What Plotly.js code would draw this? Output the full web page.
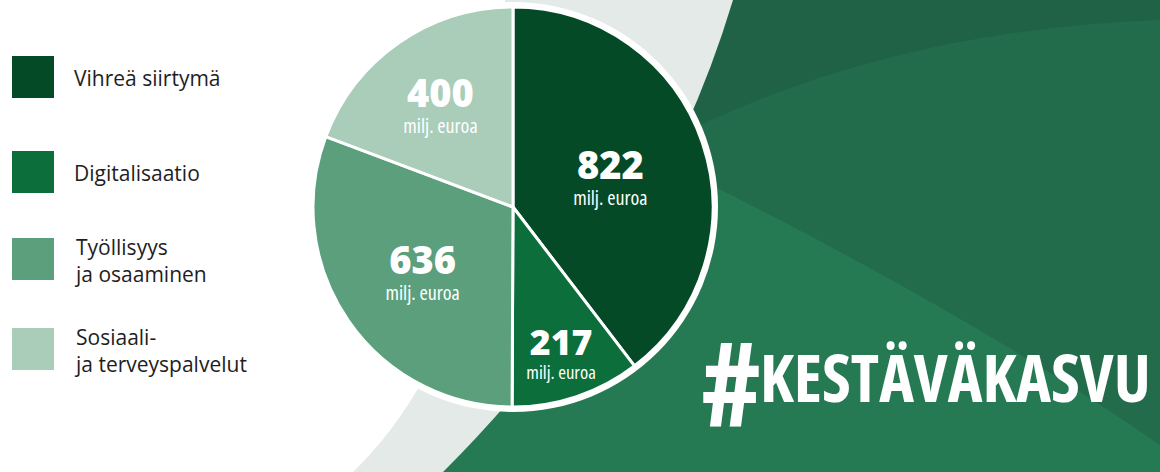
<!DOCTYPE html>
<html>
<head>
<meta charset="utf-8">
<script src="https://cdn.plot.ly/plotly-3.0.1.min.js"></script>
<style>
  html, body { margin: 0; padding: 0; background: #ffffff; }
  #chart { width: 1160px; height: 472px; }
</style>
</head>
<body>
<div id="chart"></div>
<script>
// ---- data ----
const categories = ['Vihreä siirtymä', 'Digitalisaatio', 'Työllisyys ja osaaminen', 'Sosiaali- ja terveyspalvelut'];
const legendLabels = ['Vihreä siirtymä', 'Digitalisaatio', 'Työllisyys<br>ja osaaminen', 'Sosiaali-<br>ja terveyspalvelut'];
const values = [822, 217, 636, 400];
const unitLabel = 'milj. euroa';
const hashtagLabel = 'KESTÄVÄKASVU';
const sliceColors = ['#054a27', '#0b6e3b', '#5b9f7d', '#a9cdb9'];

// ---- layout helpers (pixel -> paper) ----
const W = 1160, H = 472;
const px = x => x / W;
const py = y => 1 - y / H;
const toPaper = s => s.replace(/(-?\d+(?:\.\d+)?),(-?\d+(?:\.\d+)?)/g, (m, a, b) => px(+a) + ',' + py(+b));

const pieCx = 513, pieCy = 207, pieR = 200;
const narrow = 'Open Sans, DejaVu Sans Condensed, sans-serif';

const shapes = [
  // darker top band of the green background
  { type: 'path', xref: 'paper', yref: 'paper', layer: 'below', line: { width: 0 }, fillcolor: '#1f6245',
    path: toPaper('M 660,145 Q 880,30 1160,20 L 1160,0 L 300,0 L 300,145 Z') },
  // lighter lower-left band
  { type: 'path', xref: 'paper', yref: 'paper', layer: 'below', line: { width: 0 }, fillcolor: '#267a53',
    path: toPaper('M 640,150 Q 950,300 1160,445 L 1160,472 L 300,472 L 300,150 Z') },
  // light grey swoosh
  { type: 'path', xref: 'paper', yref: 'paper', layer: 'below', line: { width: 0 }, fillcolor: '#e3eae7',
    path: toPaper('M 0,0 L 733,0 Q 655,260 443,472 L 0,472 Z') },
  // white left area
  { type: 'path', xref: 'paper', yref: 'paper', layer: 'below', line: { width: 0 }, fillcolor: '#ffffff',
    path: toPaper('M 0,0 L 505,0 Q 500,330 353,472 L 0,472 Z') },
  // white ring behind the pie
  { type: 'circle', xref: 'paper', yref: 'paper', layer: 'below', line: { width: 0 }, fillcolor: '#ffffff',
    x0: px(pieCx - pieR - 5), x1: px(pieCx + pieR + 5), y0: py(pieCy + pieR + 5), y1: py(pieCy - pieR - 5) }
];

// legend squares + labels
const legendCenters = [77, 172, 259, 349];
const annotations = [];
categories.forEach((c, i) => {
  shapes.push({ type: 'rect', xref: 'paper', yref: 'paper', layer: 'above', line: { width: 0 },
    fillcolor: sliceColors[i],
    x0: px(12), x1: px(54), y0: py(legendCenters[i] + 21), y1: py(legendCenters[i] - 21) });
  annotations.push({ xref: 'paper', yref: 'paper', x: px(72), y: py(legendCenters[i] + 1),
    xanchor: 'left', yanchor: 'middle', align: 'left', showarrow: false,
    text: legendLabels[i], font: { family: 'Open Sans, sans-serif', size: 21, color: '#1e1e1e' } });
});

// hashtag
annotations.push({ xref: 'paper', yref: 'paper', x: px(699), y: py(381), xanchor: 'left', yanchor: 'middle',
  showarrow: false, text: "<span style='font-stretch:75%'><b>#</b></span>",
  font: { family: narrow, size: 116, color: '#ffffff' } });
annotations.push({ xref: 'paper', yref: 'paper', x: px(1153), y: py(376), xanchor: 'right', yanchor: 'middle',
  showarrow: false, text: "<span style='font-stretch:75%'><b>" + hashtagLabel + "</b></span>",
  font: { family: narrow, size: 66, color: '#ffffff' } });

const trace = {
  type: 'pie',
  labels: categories,
  values: values,
  sort: false,
  direction: 'clockwise',
  rotation: 0,
  marker: { colors: sliceColors, line: { color: '#ffffff', width: 3 } },
  textposition: 'inside',
  insidetextorientation: 'horizontal',
  texttemplate: "<span style='font-family:Open Sans;font-size:38px;font-weight:800'>%{value}</span><br><span style='font-stretch:75%'>" + unitLabel + "</span>",
  insidetextfont: { family: narrow, size: 20, color: '#ffffff' },
  hoverinfo: 'none',
  showlegend: false,
  domain: { x: [px(pieCx - pieR), px(pieCx + pieR)], y: [py(pieCy + pieR), py(pieCy - pieR)] }
};

const layout = {
  width: W, height: H,
  margin: { l: 0, r: 0, t: 0, b: 0 },
  paper_bgcolor: '#226c4b',
  plot_bgcolor: '#226c4b',
  showlegend: false,
  shapes: shapes,
  annotations: annotations
};

Plotly.newPlot('chart', [trace], layout, { displayModeBar: false, staticPlot: true });
</script>
</body>
</html>
